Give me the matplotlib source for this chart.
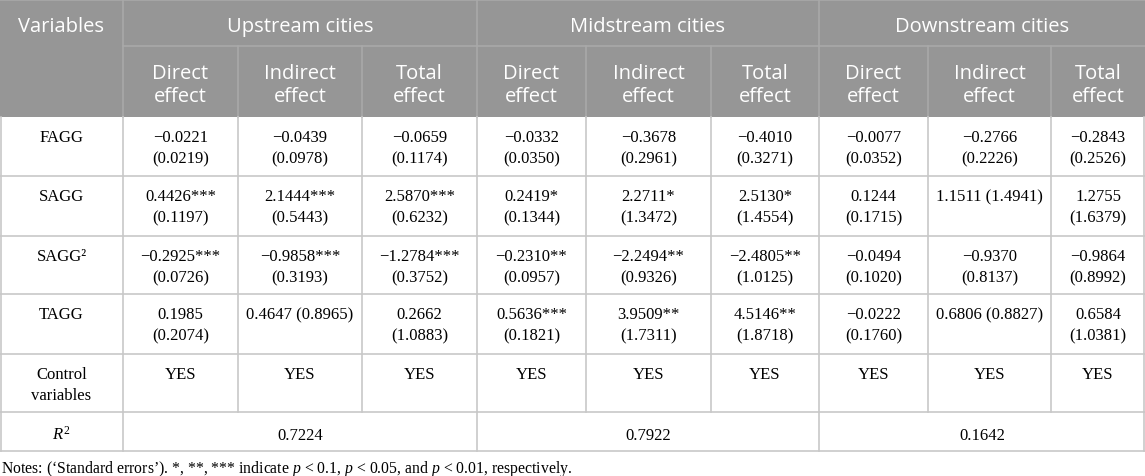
import matplotlib
matplotlib.use('Agg')
import matplotlib.pyplot as plt
from matplotlib.patches import Rectangle

# fonts: sans header, serif body (Times-like)
plt.rcParams['mathtext.fontset'] = 'custom'
plt.rcParams['mathtext.rm'] = 'Liberation Serif'
plt.rcParams['mathtext.it'] = 'Liberation Serif:italic'

# ---- table content ----
groups = ['Upstream cities', 'Midstream cities', 'Downstream cities']
effects = ['Direct\neffect', 'Indirect\neffect', 'Total\neffect']
variables = ['FAGG', 'SAGG', 'SAGG²', 'TAGG', 'Control\nvariables', '$\\mathit{R}^2$']

coef_fagg = ['−0.0221', '−0.0439', '−0.0659', '−0.0332', '−0.3678', '−0.4010', '−0.0077', '−0.2766', '−0.2843']
se_fagg = ['0.0219', '0.0978', '0.1174', '0.0350', '0.2961', '0.3271', '0.0352', '0.2226', '0.2526']
coef_sagg = ['0.4426***', '2.1444***', '2.5870***', '0.2419*', '2.2711*', '2.5130*', '0.1244', '1.1511', '1.2755']
se_sagg = ['0.1197', '0.5443', '0.6232', '0.1344', '1.3472', '1.4554', '0.1715', '1.4941', '1.6379']
coef_sagg2 = ['−0.2925***', '−0.9858***', '−1.2784***', '−0.2310**', '−2.2494**', '−2.4805**', '−0.0494', '−0.9370', '−0.9864']
se_sagg2 = ['0.0726', '0.3193', '0.3752', '0.0957', '0.9326', '1.0125', '0.1020', '0.8137', '0.8992']
coef_tagg = ['0.1985', '0.4647', '0.2662', '0.5636***', '3.9509**', '4.5146**', '−0.0222', '0.6806', '0.6584']
se_tagg = ['0.2074', '0.8965', '1.0883', '0.1821', '1.7311', '1.8718', '0.1760', '0.8827', '1.0381']
controls = ['YES'] * 9
r_squared = ['0.7224', '0.7922', '0.1642']
# cells where the standard error sits on the same line as the coefficient
same_line = [(1, 7), (3, 1), (3, 7)]

coefs = [coef_fagg, coef_sagg, coef_sagg2, coef_tagg]
ses = [se_fagg, se_sagg, se_sagg2, se_tagg]

notes = ("Notes: (‘Standard errors’). *, **, *** indicate $p$ < 0.1, "
         "$p$ < 0.05, and $p$ < 0.01, respectively.")

# ---- layout (pixels) ----
W, H = 1145, 477
col_edges = [0, 123, 238, 362, 477, 586, 711, 819, 928, 1051, 1145]
row_edges = [0, 47, 118, 177, 237, 295, 355, 413, 452]
header_bg = '#969696'
header_line = '#a9a9a9'
grid_color = '#c8c8c8'
sans = ['Open Sans', 'DejaVu Sans']
serif = ['Liberation Serif', 'DejaVu Serif']
hsize = 14.5
bsize = 12

fig = plt.figure(figsize=(W / 100, H / 100), dpi=100)
ax = fig.add_axes([0, 0, 1, 1])
ax.set_xlim(0, W)
ax.set_ylim(H, 0)
ax.axis('off')

# header background
ax.add_patch(Rectangle((0, 0), W, row_edges[2], color=header_bg, lw=0))

# header lines
ax.plot([0, W], [0.5, 0.5], color=header_line, lw=1.2)
ax.plot([col_edges[1], W], [row_edges[1], row_edges[1]], color=header_line, lw=1.2)
for i, x in enumerate(col_edges[1:-1], start=1):
    y0 = 0 if i in (1, 4, 7) else row_edges[1]
    ax.plot([x, x], [y0, row_edges[2]], color=header_line, lw=1.2)


def htext(x, y, s):
    ax.text(x, y, s, ha='center', va='baseline', color='white',
            fontsize=hsize, family=sans)


# header text
htext(col_edges[1] / 2, 32, 'Variables')
for g, name in enumerate(groups):
    xc = (col_edges[1 + 3 * g] + col_edges[4 + 3 * g]) / 2
    htext(xc, 32, name)
    for k, eff in enumerate(effects):
        j = 1 + 3 * g + k
        xc = (col_edges[j] + col_edges[j + 1]) / 2
        l1, l2 = eff.split('\n')
        htext(xc, 79, l1)
        htext(xc, 102, l2)

# body grid
for y in row_edges[3:]:
    ax.plot([0, W], [y, y], color=grid_color, lw=1.2)
for i, x in enumerate(col_edges):
    x = min(max(x, 0.6), W - 0.6)
    ax.plot([x, x], [row_edges[2], row_edges[-2]], color=grid_color, lw=1.2)
    if i in (0, 1, 4, 7, 10):
        ax.plot([x, x], [row_edges[-2], row_edges[-1]], color=grid_color, lw=1.2)


def btext(x, y, s):
    ax.text(x, y, s, ha='center', va='baseline', fontsize=bsize, family=serif)


def two_lines(xc, top, a, b):
    btext(xc, top + 24, a)
    if b:
        btext(xc, top + 45, b)


xv = col_edges[1] / 2
for r, var in enumerate(variables):
    top = row_edges[r + 2]
    if r == 5:
        btext(xv, top + 27, var)
    else:
        parts = var.split('\n')
        two_lines(xv, top, parts[0], parts[1] if len(parts) > 1 else None)

for r in range(4):
    top = row_edges[r + 2]
    for j in range(9):
        xc = (col_edges[j + 1] + col_edges[j + 2]) / 2
        c, s = coefs[r][j], ses[r][j]
        if (r, j) in same_line:
            two_lines(xc, top, c + ' (' + s + ')', None)
        else:
            two_lines(xc, top, c, '(' + s + ')')

top = row_edges[6]
for j in range(9):
    xc = (col_edges[j + 1] + col_edges[j + 2]) / 2
    two_lines(xc, top, controls[j], None)

for g, val in enumerate(r_squared):
    xc = (col_edges[1 + 3 * g] + col_edges[4 + 3 * g]) / 2
    btext(xc, row_edges[7] + 27, val)

ax.text(1, 473, notes, ha='left', va='baseline', fontsize=11.3, family=serif)

fig.savefig('out.png', dpi=100)
